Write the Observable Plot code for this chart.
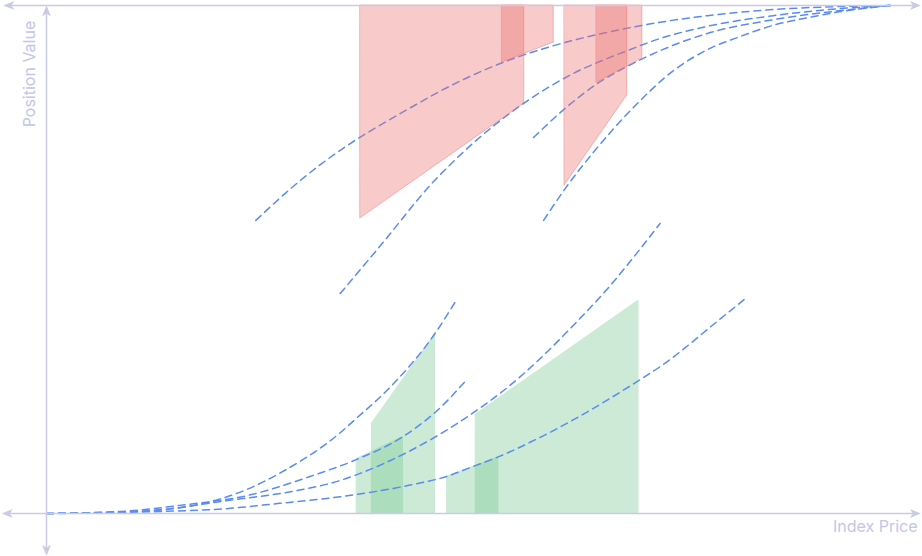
<!DOCTYPE html>
<html>
<head>
<meta charset="utf-8">
<script src="https://cdn.jsdelivr.net/npm/d3@7"></script>
<script src="https://cdn.jsdelivr.net/npm/@observablehq/plot@0.6"></script>
<style>
  html, body { margin: 0; padding: 0; background: #fff; }
  #chart svg { display: block; }
</style>
</head>
<body>
<div id="chart"></div>
<script>
// ---- data (Index Price 0..100, Position Value 0..100) ----
const curveNames = ["L1", "L2", "L3", "L4", "U1", "U2", "U3", "U4"];
const priceL1 = [0, 6.4, 13.0, 19.8, 23.7, 27.6, 34.8, 36.7, 40.8, 46.1, 48.6];
const valueL1 = [0, 0.1, 0.6, 2.5, 4.7, 7.9, 15.9, 18.7, 25.0, 35.6, 42.1];
const priceL2 = [0, 8.8, 15.8, 23.7, 31.6, 36.7, 42.3, 46.7, 49.6];
const valueL2 = [0, 0.4, 1.6, 3.5, 7.5, 10.6, 15.2, 20.9, 26.0];
const priceL3 = [0, 12.3, 21.7, 29.6, 34.8, 36.7, 42.8, 46.7, 50.8, 54.6, 58.5, 62.4, 66.5, 70.4, 72.7];
const valueL3 = [0, 0.6, 2.6, 4.5, 6.5, 7.6, 12.1, 15.7, 20.1, 24.8, 30.5, 37.0, 44.3, 52.2, 57.1];
const priceL4 = [0, 19.8, 27.6, 34.8, 42.8, 47.4, 50.6, 53.6, 58.5, 70.2, 72.7, 79.9, 82.8];
const valueL4 = [0, 0.8, 2.0, 3.3, 5.5, 7.3, 9.3, 11.2, 15.0, 26.2, 28.9, 38.4, 42.3];
const priceU1 = [24.8, 30.1, 34.8, 41.9, 49.1, 54.1, 60.1, 65.3, 72.7, 78.3, 86.1, 100];
const valueU1 = [57.7, 65.6, 71.5, 78.7, 85.2, 88.8, 92.1, 94.3, 96.7, 98.0, 99.2, 100];
const priceU2 = [34.8, 39.6, 45.9, 49.1, 56.5, 62.4, 68.8, 72.7, 78.3, 86.1, 94.1, 100];
const valueU2 = [43.3, 52.8, 65.4, 70.7, 80.7, 86.6, 91.1, 93.5, 95.9, 98.0, 99.4, 100];
const priceU3 = [57.7, 61.7, 65.6, 68.8, 72.7, 78.3, 86.1, 94.1, 100];
const valueU3 = [74.0, 80.1, 85.0, 88.0, 91.1, 94.5, 97.2, 99.0, 100];
const priceU4 = [58.9, 61.3, 64.8, 70.0, 74.3, 78.3, 82.2, 86.1, 90.2, 94.1, 100];
const valueU4 = [57.7, 63.6, 71.1, 80.7, 87.2, 91.3, 93.9, 96.1, 97.6, 98.8, 100];

// shaded zones: [x start, x end], edge value at start and end
const lossZones   = ["R1", "R3", "R4", "R5"];
const lossX0      = [37.2, 54.0, 61.4, 65.2];
const lossX1      = [56.6, 60.1, 68.8, 70.6];
const lossEdge0   = [58.1, 88.8, 64.6, 84.8];
const lossEdge1   = [80.7, 92.7, 82.3, 89.6];
const gainZones   = ["G1", "G2", "G3", "G4"];
const gainX0      = [36.7, 38.5, 47.4, 50.8];
const gainX1      = [42.3, 46.1, 53.6, 70.2];
const gainEdge0   = [10.8, 17.7, 7.3, 19.5];
const gainEdge1   = [15.2, 35.6, 11.2, 42.1];

const yLabel = "Position Value";
const xLabel = "Index Price";

// ---- build tables ----
const series = {L1: [priceL1, valueL1], L2: [priceL2, valueL2], L3: [priceL3, valueL3], L4: [priceL4, valueL4],
                U1: [priceU1, valueU1], U2: [priceU2, valueU2], U3: [priceU3, valueU3], U4: [priceU4, valueU4]};
const curves = curveNames.flatMap(n => series[n][0].map((x, i) => ({name: n, x, y: series[n][1][i]})));
const loss = lossZones.flatMap((z, i) => [
  {zone: z, x: lossX0[i], lo: lossEdge0[i], hi: 100},
  {zone: z, x: lossX1[i], lo: lossEdge1[i], hi: 100}]);
const gain = gainZones.flatMap((z, i) => [
  {zone: z, x: gainX0[i], lo: 0, hi: gainEdge0[i]},
  {zone: z, x: gainX1[i], lo: 0, hi: gainEdge1[i]}]);

const axisColor = "#c9cbe3";
const arrowHead = {
  draw(ctx) { ctx.moveTo(0, 0); ctx.lineTo(-11, -4.5); ctx.lineTo(-8, 0); ctx.lineTo(-11, 4.5); ctx.closePath(); }
};
const arrows = [
  {x: -5.3, y: 0, r: 180}, {x: 103.6, y: 0, r: 0},
  {x: -5.1, y: 100, r: 180}, {x: 103.6, y: 100, r: 0},
  {x: 0, y: 100, r: -90}, {x: 0, y: -8.3, r: 90}
];

const chart = Plot.plot({
  width: 922,
  height: 556,
  marginLeft: 46,
  marginRight: 32,
  marginTop: 5,
  marginBottom: 43,
  x: {domain: [0, 100], axis: null},
  y: {domain: [0, 100], axis: null},
  style: {background: "#fff", overflow: "visible"},
  marks: [
    Plot.areaY(gain, {x: "x", y1: "lo", y2: "hi", z: "zone", fill: "rgb(120,200,148)", fillOpacity: 0.38}),
    Plot.line(curves, {x: "x", y: "y", z: "name", stroke: "#5a8cf0", strokeWidth: 1.5,
      strokeDasharray: "7,5", curve: "monotone-x"}),
    Plot.areaY(loss, {x: "x", y1: "lo", y2: "hi", z: "zone", fill: "rgb(236,108,108)", fillOpacity: 0.36,
      stroke: "rgb(236,108,108)", strokeOpacity: 0.45, strokeWidth: 1}),
    Plot.ruleY([0], {x1: -4.9, x2: 103.2, stroke: axisColor, strokeWidth: 1.5}),
    Plot.ruleY([100], {x1: -4.9, x2: 103.2, stroke: axisColor, strokeWidth: 1.5}),
    Plot.ruleX([0], {y1: -8, y2: 99.5, stroke: axisColor, strokeWidth: 1.5}),
    Plot.dot(arrows, {x: "x", y: "y", rotate: "r", symbol: arrowHead, fill: axisColor, stroke: "none"}),
    Plot.text([yLabel], {x: -2.0, y: 97.0, rotate: -90, textAnchor: "end", lineAnchor: "middle",
      fontSize: 16, fill: "#c3c6e6", fontFamily: "Inter"}),
    Plot.text([xLabel], {x: 103.2, y: -2.6, textAnchor: "end", lineAnchor: "middle",
      fontSize: 16, fill: "#c3c6e6", fontFamily: "Inter"})
  ]
});
document.getElementById("chart").appendChild(chart);
</script>
</body>
</html>
